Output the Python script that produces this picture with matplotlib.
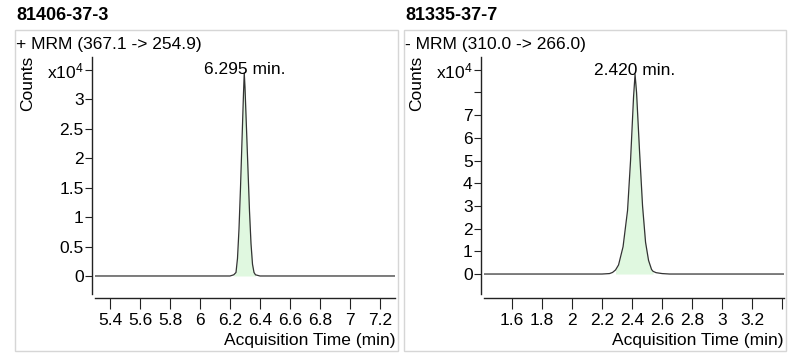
import numpy as np
import matplotlib
matplotlib.use("Agg")
import matplotlib.pyplot as plt
from matplotlib.patches import Rectangle

plt.rcParams['font.family'] = ['Liberation Sans', 'DejaVu Sans']
plt.rcParams['mathtext.default'] = 'regular'

# DATA (counts)
left_title = "81406-37-3"
left_trace = "+ MRM (367.1 -> 254.9)"
left_time = [5.30, 6.20, 6.225, 6.24, 6.25, 6.26, 6.27, 6.28, 6.29, 6.295, 6.30,
             6.31, 6.32, 6.33, 6.34, 6.35, 6.36, 6.37, 6.40, 7.30]
left_counts = [0, 0, 200, 600, 3000, 8000, 15000, 23000, 31000, 34500, 32000,
               25000, 18000, 11000, 5500, 2000, 600, 200, 0, 0]
left_rt = 6.295
left_integ = (6.225, 6.37)
left_yticks = [0, 0.5, 1, 1.5, 2, 2.5, 3, 3.5]
left_yticklabels = ["0", "0.5", "1", "1.5", "2", "2.5", "3", "x10$^4$"]
left_xticks = [5.4, 5.6, 5.8, 6, 6.2, 6.4, 6.6, 6.8, 7, 7.2]
left_xticklabels = ["5.4", "5.6", "5.8", "6", "6.2", "6.4", "6.6", "6.8", "7", "7.2"]

right_title = "81335-37-7"
right_trace = "- MRM (310.0 -> 266.0)"
right_time = [1.41, 2.20, 2.25, 2.27, 2.29, 2.31, 2.34, 2.37, 2.39, 2.41, 2.42,
              2.43, 2.45, 2.47, 2.49, 2.51, 2.53, 2.54, 2.56, 2.60, 2.65, 3.41]
right_counts = [0, 0, 200, 700, 1800, 4000, 12000, 28000, 50000, 78000, 88000,
                80000, 54000, 30000, 14000, 6000, 2000, 1200, 600, 200, 0, 0]
right_rt = 2.420
right_integ = (2.29, 2.54)
right_yticks = [0, 1, 2, 3, 4, 5, 6, 7, 8, 9]
right_yticklabels = ["0", "1", "2", "3", "4", "5", "6", "7", "", "x10$^4$"]
right_xticks = [1.6, 1.8, 2, 2.2, 2.4, 2.6, 2.8, 3, 3.2, 3.4]
right_xticklabels = ["1.6", "1.8", "2", "2.2", "2.4", "2.6", "2.8", "3", "3.2", ""]

W, H = 802, 364
FS = 12.5
fig = plt.figure(figsize=(W / 100, H / 100), dpi=100)


def fx(px):
    return px / W


def fy(py):
    return 1 - py / H


def panel(x0, frame_w, title, trace, t, c, rt, integ, xlim, ylim,
          yticks, yticklabels, xticks, xticklabels, gray_tick=None):
    fig.patches.append(Rectangle((fx(x0), fy(351)), fx(frame_w), (351 - 30) / H,
                                 transform=fig.transFigure, fill=False,
                                 edgecolor='#d6d6d6', lw=1))
    fig.text(fx(x0 + 1), fy(15), title, fontsize=13, fontweight='bold',
             va='center', ha='left')
    fig.text(fx(x0 + 1), fy(44), trace, fontsize=FS, va='center', ha='left')
    fig.text(fx(x0 + 13), fy(56), "Counts", fontsize=FS, rotation=90,
             va='top', ha='center')

    ax = fig.add_axes([fx(x0 + 80), fy(294), fx(300), (294 - 57) / H])
    t = np.array(t)
    c = np.array(c) / 1e4
    m = (t >= integ[0]) & (t <= integ[1])
    ax.fill_between(t[m], 0, c[m], color='#e0f8e0', lw=0)
    ax.plot(t, c, color='#333333', lw=0.9)
    ax.annotate(f"{rt:.3f} min.", (rt, c.max()), xytext=(0, -3),
                textcoords='offset points', ha='center', va='bottom',
                fontsize=FS)

    ax.set_xlim(*xlim)
    ax.set_ylim(*ylim)
    for s in ['top', 'right']:
        ax.spines[s].set_visible(False)
    ax.spines['left'].set_position(('outward', 2.2))
    ax.spines['bottom'].set_position(('outward', 3))
    for s in ['left', 'bottom']:
        ax.spines[s].set_color('#222222')
        ax.spines[s].set_linewidth(1.0)
    ax.set_yticks(yticks)
    ax.set_yticklabels(yticklabels)
    ax.set_xticks(xticks)
    ax.set_xticklabels(xticklabels)
    ax.tick_params(axis='y', length=5, width=0.8, color='#222222',
                   labelsize=FS, pad=1)
    ax.tick_params(axis='x', length=8, width=0.8, color='#222222',
                   labelsize=FS, pad=2.5)
    if gray_tick is not None:
        ax.yaxis.get_major_ticks()[gray_tick].tick1line.set_color('#999999')
    ax.set_xlabel("Acquisition Time (min)", loc='right', fontsize=FS,
                  labelpad=4)
    return ax


panel(15, 383, left_title, left_trace, left_time, left_counts, left_rt,
      left_integ, (5.3, 7.3), (-0.306, 3.72), left_yticks, left_yticklabels,
      left_xticks, left_xticklabels)
panel(404, 382, right_title, right_trace, right_time, right_counts, right_rt,
      right_integ, (1.413, 3.413), (-0.88, 9.56), right_yticks,
      right_yticklabels, right_xticks, right_xticklabels, gray_tick=8)

fig.savefig("out.png", dpi=100)
